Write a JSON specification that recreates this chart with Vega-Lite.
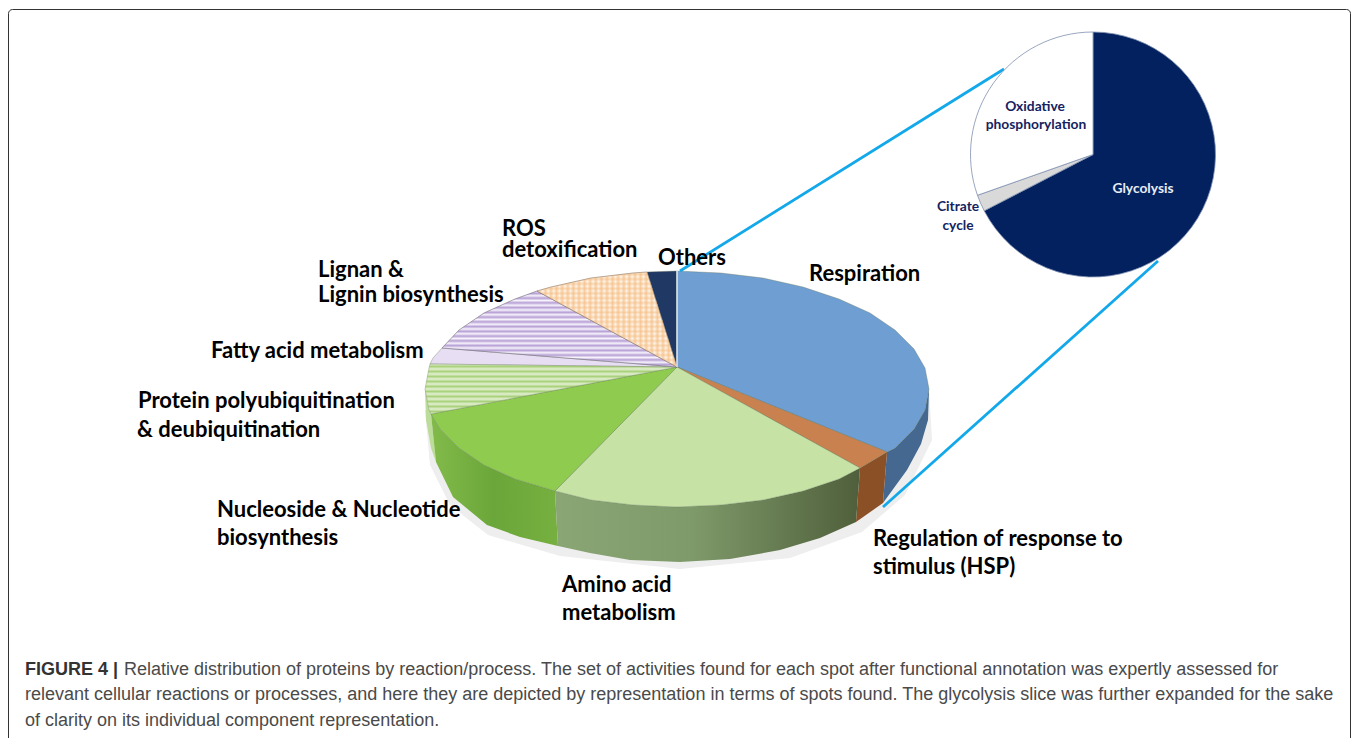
{"$schema":"https://vega.github.io/schema/vega-lite/v6.json","width":1358,"height":738,"autosize":{"type":"fit","contains":"padding"},"padding":0,"background":"white","config":{"view":{"stroke":null}},"resolve":{"scale":{"color":"independent"}},
"layer":[
{"data":{"values":[{"type":"Feature","properties":{"name":"shadow"},"geometry":{"type":"Polygon","coordinates":[[[425,410],[430,465],[450,505],[488,535],[560,556],[680,569],[790,558],[862,532],[905,495],[932,440],[929,389],[425,410]]]}}]},"mark":{"type":"geoshape","fill":"#eeeeee","stroke":null},"projection":{"type":"identity","scale":1,"translate":[0,0]}},
{"data":{"values":[
{"type":"Feature","properties":{"name":"Respiration side"},"geometry":{"type":"Polygon","coordinates":[[[887,452],[895,448],[914,429],[925,410],[929,389],[928,420],[921,444],[907,470],[883,503],[887,452]]]}},
{"type":"Feature","properties":{"name":"Regulation side"},"geometry":{"type":"Polygon","coordinates":[[[860,468],[887,452],[883,503],[856,522],[860,468]]]}},
{"type":"Feature","properties":{"name":"Protein side"},"geometry":{"type":"Polygon","coordinates":[[[425,389],[429,410],[431,414],[436,462],[431,448],[426,420],[425,389]]]}}
]},"mark":{"type":"geoshape","stroke":null},"projection":{"type":"identity","scale":1,"translate":[0,0]},"encoding":{"color":{"field":"properties.name","type":"nominal","legend":null,"scale":{"domain":["Respiration side","Regulation side","Protein side"],"range":["#446890","#8c5026","#bcdc9a"]}}}},
{"data":{"values":[{"type":"Feature","properties":{"name":"Nucleoside side"},"geometry":{"type":"Polygon","coordinates":[[[431,414],[440,429],[459,448],[484,465],[515,479],[555,491],[558,546],[520,537],[487,525],[453,497],[436,462],[431,414]]]}}]},"mark":{"type":"geoshape","stroke":null,"fill":{"gradient":"linear","x1":0,"y1":0,"x2":1,"y2":0,"stops":[{"offset":0,"color":"#82bb4a"},{"offset":0.5,"color":"#6ba63a"},{"offset":1,"color":"#76b040"}]}},"projection":{"type":"identity","scale":1,"translate":[0,0]}},
{"data":{"values":[{"type":"Feature","properties":{"name":"Amino side"},"geometry":{"type":"Polygon","coordinates":[[[555,491],[591,500],[633,505],[677,507],[721,505],[763,500],[803,491],[839,479],[860,468],[856,522],[820,538],[780,550],[730,559],[680,562],[630,560],[590,553],[558,546],[555,491]]]}}]},"mark":{"type":"geoshape","stroke":null,"fill":{"gradient":"linear","x1":0,"y1":0,"x2":1,"y2":0,"stops":[{"offset":0,"color":"#8aa675"},{"offset":0.45,"color":"#7f9a6a"},{"offset":1,"color":"#4f5f3b"}]}},"projection":{"type":"identity","scale":1,"translate":[0,0]}},
{"data":{"values":[
{"type":"Feature","properties":{"name":"Respiration"},"geometry":{"type":"Polygon","coordinates":[[[677,367],[677,271],[721,273],[763,278],[803,287],[839,299],[870,313],[895,330],[914,349],[925,368],[929,389],[925,410],[914,429],[895,448],[887,452],[677,367]]]}},
{"type":"Feature","properties":{"name":"Regulation of response to stimulus (HSP)"},"geometry":{"type":"Polygon","coordinates":[[[677,367],[887,452],[860,468],[677,367]]]}},
{"type":"Feature","properties":{"name":"Amino acid metabolism"},"geometry":{"type":"Polygon","coordinates":[[[677,367],[860,468],[839,479],[803,491],[763,500],[721,505],[677,507],[633,505],[591,500],[555,491],[677,367]]]}},
{"type":"Feature","properties":{"name":"Nucleoside & Nucleotide biosynthesis"},"geometry":{"type":"Polygon","coordinates":[[[677,367],[555,491],[515,479],[484,465],[459,448],[440,429],[431,414],[677,367]]]}},
{"type":"Feature","properties":{"name":"Fatty acid metabolism"},"geometry":{"type":"Polygon","coordinates":[[[677,367],[430,364],[433,358],[442,348],[677,367]]]}},
{"type":"Feature","properties":{"name":"Others"},"geometry":{"type":"Polygon","coordinates":[[[677,367],[647,272],[677,271],[677,367]]]}}
]},"mark":{"type":"geoshape","stroke":"#5f6f55","strokeWidth":0.5,"strokeOpacity":0.7},"projection":{"type":"identity","scale":1,"translate":[0,0]},"encoding":{"color":{"field":"properties.name","type":"nominal","legend":null,"scale":{"domain":["Respiration","Regulation of response to stimulus (HSP)","Amino acid metabolism","Nucleoside & Nucleotide biosynthesis","Fatty acid metabolism","Others"],"range":["#6f9fd2","#c9824f","#c6e3a5","#8ecb4e","#e7def3","#203864"]}}}},
{"data":{"values":[{"type":"Feature","properties":{"name":"Protein polyubiquitination & deubiquitination"},"geometry":{"type":"Polygon","coordinates":[[[677,367],[431,414],[429,410],[425,389],[429,368],[430,364],[677,367]]]}}]},"mark":{"type":"geoshape","stroke":"#6b7a5c","strokeWidth":0.5,"strokeOpacity":0.7,"fill":{"gradient":"linear","x1":0,"y1":0,"x2":0,"y2":1,"stops":[{"offset":0,"color":"#e3f0d3"},{"offset":0.05,"color":"#aad27c"},{"offset":0.1,"color":"#e3f0d3"},{"offset":0.15,"color":"#aad27c"},{"offset":0.2,"color":"#e3f0d3"},{"offset":0.25,"color":"#aad27c"},{"offset":0.3,"color":"#e3f0d3"},{"offset":0.35,"color":"#aad27c"},{"offset":0.4,"color":"#e3f0d3"},{"offset":0.45,"color":"#aad27c"},{"offset":0.5,"color":"#e3f0d3"},{"offset":0.55,"color":"#aad27c"},{"offset":0.6,"color":"#e3f0d3"},{"offset":0.65,"color":"#aad27c"},{"offset":0.7,"color":"#e3f0d3"},{"offset":0.75,"color":"#aad27c"},{"offset":0.8,"color":"#e3f0d3"},{"offset":0.85,"color":"#aad27c"},{"offset":0.9,"color":"#e3f0d3"},{"offset":0.95,"color":"#aad27c"},{"offset":1,"color":"#e3f0d3"}]}},"projection":{"type":"identity","scale":1,"translate":[0,0]}},
{"data":{"values":[{"type":"Feature","properties":{"name":"Lignan & Lignin biosynthesis"},"geometry":{"type":"Polygon","coordinates":[[[677,367],[442,348],[459,330],[484,313],[515,299],[537,291],[677,367]]]}}]},"mark":{"type":"geoshape","stroke":"#6e6a78","strokeWidth":0.6,"fill":{"gradient":"linear","x1":0,"y1":0,"x2":0,"y2":1,"stops":[{"offset":0,"color":"#f6f2fb"},{"offset":0.03125,"color":"#b7a0d6"},{"offset":0.0625,"color":"#f6f2fb"},{"offset":0.09375,"color":"#b7a0d6"},{"offset":0.125,"color":"#f6f2fb"},{"offset":0.15625,"color":"#b7a0d6"},{"offset":0.1875,"color":"#f6f2fb"},{"offset":0.21875,"color":"#b7a0d6"},{"offset":0.25,"color":"#f6f2fb"},{"offset":0.28125,"color":"#b7a0d6"},{"offset":0.3125,"color":"#f6f2fb"},{"offset":0.34375,"color":"#b7a0d6"},{"offset":0.375,"color":"#f6f2fb"},{"offset":0.40625,"color":"#b7a0d6"},{"offset":0.4375,"color":"#f6f2fb"},{"offset":0.46875,"color":"#b7a0d6"},{"offset":0.5,"color":"#f6f2fb"},{"offset":0.53125,"color":"#b7a0d6"},{"offset":0.5625,"color":"#f6f2fb"},{"offset":0.59375,"color":"#b7a0d6"},{"offset":0.625,"color":"#f6f2fb"},{"offset":0.65625,"color":"#b7a0d6"},{"offset":0.6875,"color":"#f6f2fb"},{"offset":0.71875,"color":"#b7a0d6"},{"offset":0.75,"color":"#f6f2fb"},{"offset":0.78125,"color":"#b7a0d6"},{"offset":0.8125,"color":"#f6f2fb"},{"offset":0.84375,"color":"#b7a0d6"},{"offset":0.875,"color":"#f6f2fb"},{"offset":0.90625,"color":"#b7a0d6"},{"offset":0.9375,"color":"#f6f2fb"},{"offset":0.96875,"color":"#b7a0d6"},{"offset":1,"color":"#f6f2fb"}]}},"projection":{"type":"identity","scale":1,"translate":[0,0]}},
{"data":{"values":[{"type":"Feature","properties":{"name":"ROS detoxification"},"geometry":{"type":"Polygon","coordinates":[[[677,367],[537,291],[551,287],[591,278],[633,273],[647,272],[677,367]]]}}]},"mark":{"type":"geoshape","stroke":"#7a6a5a","strokeWidth":0.6,"fill":{"gradient":"linear","x1":0,"y1":0,"x2":0,"y2":1,"stops":[{"offset":0,"color":"#fef8f0"},{"offset":0.025,"color":"#f9d9b6"},{"offset":0.05,"color":"#fef8f0"},{"offset":0.075,"color":"#f9d9b6"},{"offset":0.1,"color":"#fef8f0"},{"offset":0.125,"color":"#f9d9b6"},{"offset":0.15,"color":"#fef8f0"},{"offset":0.175,"color":"#f9d9b6"},{"offset":0.2,"color":"#fef8f0"},{"offset":0.225,"color":"#f9d9b6"},{"offset":0.25,"color":"#fef8f0"},{"offset":0.275,"color":"#f9d9b6"},{"offset":0.3,"color":"#fef8f0"},{"offset":0.325,"color":"#f9d9b6"},{"offset":0.35,"color":"#fef8f0"},{"offset":0.375,"color":"#f9d9b6"},{"offset":0.4,"color":"#fef8f0"},{"offset":0.425,"color":"#f9d9b6"},{"offset":0.45,"color":"#fef8f0"},{"offset":0.475,"color":"#f9d9b6"},{"offset":0.5,"color":"#fef8f0"},{"offset":0.525,"color":"#f9d9b6"},{"offset":0.55,"color":"#fef8f0"},{"offset":0.575,"color":"#f9d9b6"},{"offset":0.6,"color":"#fef8f0"},{"offset":0.625,"color":"#f9d9b6"},{"offset":0.65,"color":"#fef8f0"},{"offset":0.675,"color":"#f9d9b6"},{"offset":0.7,"color":"#fef8f0"},{"offset":0.725,"color":"#f9d9b6"},{"offset":0.75,"color":"#fef8f0"},{"offset":0.775,"color":"#f9d9b6"},{"offset":0.8,"color":"#fef8f0"},{"offset":0.825,"color":"#f9d9b6"},{"offset":0.85,"color":"#fef8f0"},{"offset":0.875,"color":"#f9d9b6"},{"offset":0.9,"color":"#fef8f0"},{"offset":0.925,"color":"#f9d9b6"},{"offset":0.95,"color":"#fef8f0"},{"offset":0.975,"color":"#f9d9b6"},{"offset":1,"color":"#fef8f0"}]}},"projection":{"type":"identity","scale":1,"translate":[0,0]}},
{"data":{"values":[{"type":"Feature","properties":{"name":"ROS detoxification hatch"},"geometry":{"type":"Polygon","coordinates":[[[677,367],[537,291],[551,287],[591,278],[633,273],[647,272],[677,367]]]}}]},"mark":{"type":"geoshape","stroke":null,"fill":{"gradient":"linear","x1":0,"y1":0,"x2":1,"y2":0,"stops":[{"offset":0,"color":"rgba(245,180,115,0)"},{"offset":0.02,"color":"rgba(245,180,115,0.6)"},{"offset":0.04,"color":"rgba(245,180,115,0)"},{"offset":0.06,"color":"rgba(245,180,115,0.6)"},{"offset":0.08,"color":"rgba(245,180,115,0)"},{"offset":0.1,"color":"rgba(245,180,115,0.6)"},{"offset":0.12,"color":"rgba(245,180,115,0)"},{"offset":0.14,"color":"rgba(245,180,115,0.6)"},{"offset":0.16,"color":"rgba(245,180,115,0)"},{"offset":0.18,"color":"rgba(245,180,115,0.6)"},{"offset":0.2,"color":"rgba(245,180,115,0)"},{"offset":0.22,"color":"rgba(245,180,115,0.6)"},{"offset":0.24,"color":"rgba(245,180,115,0)"},{"offset":0.26,"color":"rgba(245,180,115,0.6)"},{"offset":0.28,"color":"rgba(245,180,115,0)"},{"offset":0.3,"color":"rgba(245,180,115,0.6)"},{"offset":0.32,"color":"rgba(245,180,115,0)"},{"offset":0.34,"color":"rgba(245,180,115,0.6)"},{"offset":0.36,"color":"rgba(245,180,115,0)"},{"offset":0.38,"color":"rgba(245,180,115,0.6)"},{"offset":0.4,"color":"rgba(245,180,115,0)"},{"offset":0.42,"color":"rgba(245,180,115,0.6)"},{"offset":0.44,"color":"rgba(245,180,115,0)"},{"offset":0.46,"color":"rgba(245,180,115,0.6)"},{"offset":0.48,"color":"rgba(245,180,115,0)"},{"offset":0.5,"color":"rgba(245,180,115,0.6)"},{"offset":0.52,"color":"rgba(245,180,115,0)"},{"offset":0.54,"color":"rgba(245,180,115,0.6)"},{"offset":0.56,"color":"rgba(245,180,115,0)"},{"offset":0.58,"color":"rgba(245,180,115,0.6)"},{"offset":0.6,"color":"rgba(245,180,115,0)"},{"offset":0.62,"color":"rgba(245,180,115,0.6)"},{"offset":0.64,"color":"rgba(245,180,115,0)"},{"offset":0.66,"color":"rgba(245,180,115,0.6)"},{"offset":0.68,"color":"rgba(245,180,115,0)"},{"offset":0.7,"color":"rgba(245,180,115,0.6)"},{"offset":0.72,"color":"rgba(245,180,115,0)"},{"offset":0.74,"color":"rgba(245,180,115,0.6)"},{"offset":0.76,"color":"rgba(245,180,115,0)"},{"offset":0.78,"color":"rgba(245,180,115,0.6)"},{"offset":0.8,"color":"rgba(245,180,115,0)"},{"offset":0.82,"color":"rgba(245,180,115,0.6)"},{"offset":0.84,"color":"rgba(245,180,115,0)"},{"offset":0.86,"color":"rgba(245,180,115,0.6)"},{"offset":0.88,"color":"rgba(245,180,115,0)"},{"offset":0.9,"color":"rgba(245,180,115,0.6)"},{"offset":0.92,"color":"rgba(245,180,115,0)"},{"offset":0.94,"color":"rgba(245,180,115,0.6)"},{"offset":0.96,"color":"rgba(245,180,115,0)"},{"offset":0.98,"color":"rgba(245,180,115,0.6)"},{"offset":1,"color":"rgba(245,180,115,0)"}]}},"projection":{"type":"identity","scale":1,"translate":[0,0]}},
{"data":{"values":[{"type":"Feature","properties":{"name":"gap"},"geometry":{"type":"LineString","coordinates":[[677,271],[677,367]]}}]},"mark":{"type":"geoshape","filled":false,"stroke":"#e8eef5","strokeWidth":1.5},"projection":{"type":"identity","scale":1,"translate":[0,0]}},
{"data":{"values":[{"link":"upper","px":680,"py":271,"px2":1004,"py2":69},{"link":"lower","px":883,"py":507,"px2":1158,"py2":261}]},"mark":{"type":"rule","color":"#12a8ea","strokeWidth":2.8},"encoding":{"x":{"field":"px","type":"quantitative","axis":null,"scale":{"domain":[0,1358],"nice":false,"zero":false}},"y":{"field":"py","type":"quantitative","axis":null,"scale":{"domain":[738,0],"nice":false,"zero":false}},"x2":{"field":"px2"},"y2":{"field":"py2"}}},
{"data":{"values":[{"component":"Glycolysis","share":67.4,"rank":1,"cx":1093,"cy":154.5},{"component":"Citrate cycle","share":2.2,"rank":2,"cx":1093,"cy":154.5},{"component":"Oxidative phosphorylation","share":30.4,"rank":3,"cx":1093,"cy":154.5}]},"mark":{"type":"arc","radius":122.5,"stroke":"#7f8fb0","strokeWidth":0.8},"encoding":{"theta":{"field":"share","type":"quantitative","stack":true},"order":{"field":"rank","type":"quantitative"},"color":{"field":"component","type":"nominal","legend":null,"scale":{"domain":["Glycolysis","Citrate cycle","Oxidative phosphorylation"],"range":["#02215e","#d9d9d9","#ffffff"]}},"x":{"field":"cx","type":"quantitative","axis":null,"scale":{"domain":[0,1358],"nice":false,"zero":false}},"y":{"field":"cy","type":"quantitative","axis":null,"scale":{"domain":[738,0],"nice":false,"zero":false}}}},
{"data":{"values":[{"label":"ROS","px":502,"py":229},{"label":"detoxification","px":502,"py":250},{"label":"Others","px":658,"py":258},{"label":"Respiration","px":809,"py":274},{"label":"Lignan &","px":318,"py":270},{"label":"Lignin biosynthesis","px":318,"py":295},{"label":"Fatty acid metabolism","px":211,"py":351},{"label":"Protein polyubiquitination","px":138,"py":401},{"label":"& deubiquitination","px":137,"py":430},{"label":"Nucleoside & Nucleotide","px":217,"py":510},{"label":"biosynthesis","px":217,"py":538},{"label":"Amino acid","px":562,"py":585},{"label":"metabolism","px":562,"py":613},{"label":"Regulation of response to","px":873,"py":539},{"label":"stimulus (HSP)","px":873,"py":567}]},"mark":{"type":"text","font":"Lato","fontWeight":"bold","fontSize":22,"align":"left","baseline":"middle","color":"#000000"},"encoding":{"text":{"field":"label"},"x":{"field":"px","type":"quantitative","axis":null,"scale":{"domain":[0,1358],"nice":false,"zero":false}},"y":{"field":"py","type":"quantitative","axis":null,"scale":{"domain":[738,0],"nice":false,"zero":false}}}},
{"data":{"values":[{"label":"Oxidative","px":1035,"py":107,"tone":"navy"},{"label":"phosphorylation","px":1036,"py":125,"tone":"navy"},{"label":"Citrate","px":958,"py":207,"tone":"navy"},{"label":"cycle","px":958,"py":226,"tone":"navy"},{"label":"Glycolysis","px":1143,"py":189,"tone":"white"}]},"mark":{"type":"text","font":"Lato","fontWeight":"bold","fontSize":13.8,"align":"center","baseline":"middle"},"encoding":{"text":{"field":"label"},"color":{"field":"tone","type":"nominal","legend":null,"scale":{"domain":["navy","white"],"range":["#14235f","#e8ecf4"]}},"x":{"field":"px","type":"quantitative","axis":null,"scale":{"domain":[0,1358],"nice":false,"zero":false}},"y":{"field":"py","type":"quantitative","axis":null,"scale":{"domain":[738,0],"nice":false,"zero":false}}}},
{"data":{"values":[{"label":"Relative distribution of proteins by reaction/process. The set of activities found for each spot after functional annotation was expertly assessed for","px":124,"py":670},{"label":"relevant cellular reactions or processes, and here they are depicted by representation in terms of spots found. The glycolysis slice was further expanded for the sake","px":25,"py":695},{"label":"of clarity on its individual component representation.","px":25,"py":721}]},"mark":{"type":"text","font":"Liberation Sans","fontSize":18,"align":"left","baseline":"middle","color":"#4a4a4a"},"encoding":{"text":{"field":"label"},"x":{"field":"px","type":"quantitative","axis":null,"scale":{"domain":[0,1358],"nice":false,"zero":false}},"y":{"field":"py","type":"quantitative","axis":null,"scale":{"domain":[738,0],"nice":false,"zero":false}}}},
{"data":{"values":[{"label":"FIGURE 4 |","px":25,"py":670}]},"mark":{"type":"text","font":"Liberation Sans","fontWeight":"bold","fontSize":18,"align":"left","baseline":"middle","color":"#333333"},"encoding":{"text":{"field":"label"},"x":{"field":"px","type":"quantitative","axis":null,"scale":{"domain":[0,1358],"nice":false,"zero":false}},"y":{"field":"py","type":"quantitative","axis":null,"scale":{"domain":[738,0],"nice":false,"zero":false}}}},
{"data":{"values":[{"px":8.5,"px2":1350.5,"py":9.5,"py2":760}]},"mark":{"type":"rect","fillOpacity":0,"stroke":"#333333","strokeWidth":1,"cornerRadius":4,"clip":true},"encoding":{"x":{"field":"px","type":"quantitative","axis":null,"scale":{"domain":[0,1358],"nice":false,"zero":false}},"x2":{"field":"px2"},"y":{"field":"py","type":"quantitative","axis":null,"scale":{"domain":[738,0],"nice":false,"zero":false}},"y2":{"field":"py2"}}}
]}
